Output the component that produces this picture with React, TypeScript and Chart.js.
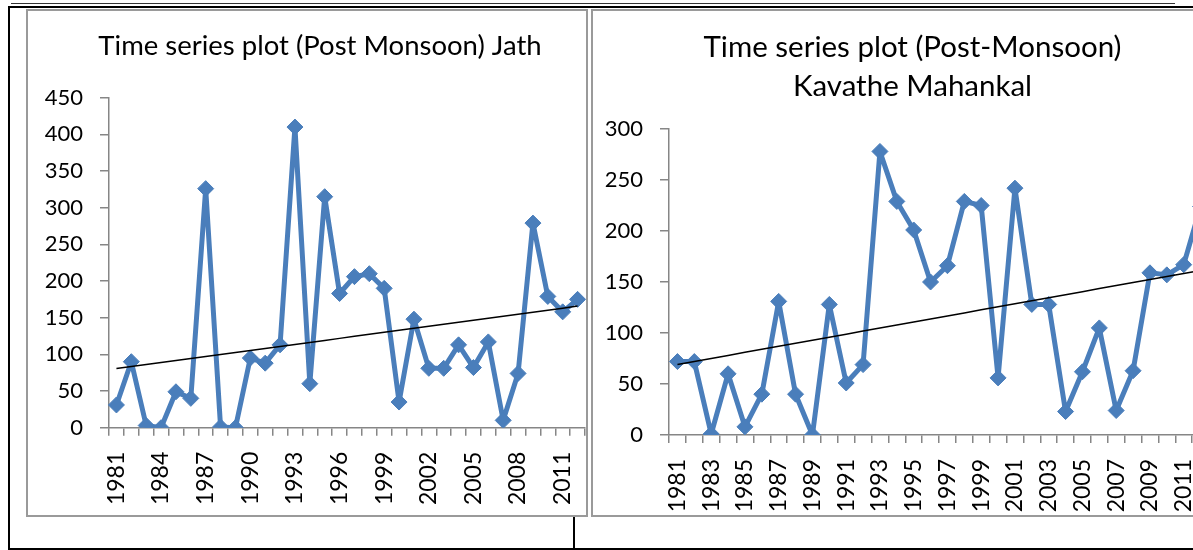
import React, { useEffect, useRef } from 'react';
import { Chart, registerables } from 'chart.js';

Chart.register(...registerables);

const years = [
  '1981', '1982', '1983', '1984', '1985', '1986', '1987', '1988', '1989', '1990', '1991',
  '1992', '1993', '1994', '1995', '1996', '1997', '1998', '1999', '2000', '2001', '2002',
  '2003', '2004', '2005', '2006', '2007', '2008', '2009', '2010', '2011', '2012',
];

const jathValues = [
  31, 90, 3, 0, 49, 40, 326, 1, 0, 95, 88, 113, 410, 60, 315, 183, 206, 210, 190, 35, 148,
  81, 81, 113, 82, 117, 10, 74, 279, 179, 158, 175,
];

const kavatheValues = [
  72, 72, 1, 60, 8, 40, 131, 40, 0, 128, 51, 69, 278, 229, 201, 150, 166, 229, 225, 56, 242,
  128, 128, 23, 62, 105, 24, 63, 159, 157, 167, 224,
];

const jathTitle = 'Time series plot (Post Monsoon) Jath';
const kavatheTitle = ['Time series plot (Post-Monsoon)', 'Kavathe Mahankal'];

const jathYMax = 450;
const kavatheYMax = 300;
const yStep = 50;
const jathLabelEvery = 3;
const kavatheLabelEvery = 2;

const SERIES_COLOR = '#4a7ebb';
const AXIS_COLOR = '#868686';
const FONT = 'Lato';

function linearTrend(values: number[]): number[] {
  const n = values.length;
  let sx = 0, sy = 0, sxy = 0, sxx = 0;
  values.forEach((v, i) => {
    sx += i; sy += v; sxy += i * v; sxx += i * i;
  });
  const slope = (n * sxy - sx * sy) / (n * sxx - sx * sx);
  const intercept = (sy - slope * sx) / n;
  return values.map((_, i) => intercept + slope * i);
}

type ChartProps = {
  values: number[];
  title: string | string[];
  yMax: number;
  labelEvery: number;
  left: number;
  top: number;
  width: number;
  height: number;
  rightSpace: number;
  yWidth: number;
  xHeight: number;
  titleSize: number;
  titleLineHeight: string;
  titlePadTop: number;
  titlePadBottom: number;
  xLabelPad: number;
};

function TimeChart(p: ChartProps) {
  const ref = useRef<HTMLCanvasElement>(null);
  useEffect(() => {
    if (!ref.current) return;
    const trend = linearTrend(p.values);
    const chart = new Chart(ref.current, {
      type: 'line',
      data: {
        labels: years,
        datasets: [
          {
            data: p.values,
            borderColor: SERIES_COLOR,
            backgroundColor: SERIES_COLOR,
            borderWidth: 5,
            borderJoinStyle: 'round',
            pointStyle: 'rectRot',
            pointRadius: 8,
            pointBorderWidth: 1,
            pointBackgroundColor: SERIES_COLOR,
            pointBorderColor: SERIES_COLOR,
            tension: 0,
            order: 1,
            yAxisID: 'y',
          },
          {
            data: trend,
            borderColor: '#000000',
            borderWidth: 1.5,
            pointRadius: 0,
            tension: 0,
            order: 0,
            yAxisID: 'y',
          },
        ],
      },
      options: {
        animation: false,
        responsive: false,
        maintainAspectRatio: false,
        layout: { padding: 0 },
        plugins: {
          legend: { display: false },
          tooltip: { enabled: false },
          title: {
            display: true,
            text: p.title,
            color: '#000000',
            font: { family: FONT, size: p.titleSize, weight: 'normal', lineHeight: p.titleLineHeight },
            padding: { top: p.titlePadTop, bottom: p.titlePadBottom },
          },
        },
        scales: {
          x: {
            type: 'category',
            offset: true,
            grid: {
              offset: true,
              drawOnChartArea: false,
              drawTicks: true,
              tickLength: 8,
              color: AXIS_COLOR,
              lineWidth: 1.5,
            },
            border: { display: true, color: AXIS_COLOR, width: 1.5 },
            ticks: {
              autoSkip: false,
              maxRotation: 90,
              minRotation: 90,
              padding: p.xLabelPad,
              color: '#000000',
              font: { family: FONT, size: 23 },
              callback: (_v: any, i: number) => (i % p.labelEvery === 0 ? years[i] : ''),
            },
            afterFit: (s: any) => {
              s.height = p.xHeight;
              s.paddingLeft = 0;
              s.paddingRight = 0;
            },
          },
          y: {
            position: 'left',
            min: 0,
            max: p.yMax,
            ticks: { stepSize: yStep, padding: 17, color: '#000000', font: { family: FONT, size: 22 } },
            grid: {
              drawOnChartArea: false,
              drawTicks: true,
              tickLength: 9,
              color: AXIS_COLOR,
              lineWidth: 1.5,
            },
            border: { display: true, color: AXIS_COLOR, width: 1.5 },
            afterFit: (s: any) => {
              s.width = p.yWidth;
              s.paddingTop = 0;
              s.paddingBottom = 0;
            },
          },
          // empty spacer on the right so the title centres like the original frame
          spacer: {
            type: 'linear',
            position: 'right',
            display: true,
            grid: { display: false, drawTicks: false },
            border: { display: false },
            ticks: { display: false },
            afterFit: (s: any) => {
              s.width = p.rightSpace;
              s.paddingTop = 0;
              s.paddingBottom = 0;
            },
          },
        },
      },
    } as any);
    return () => chart.destroy();
  }, []);
  return (
    <canvas
      ref={ref}
      width={p.width}
      height={p.height}
      style={{ position: 'absolute', left: p.left, top: p.top, width: p.width, height: p.height }}
    />
  );
}

const line = (left: number, top: number, width: number, height: number, color = '#000') => (
  <div style={{ position: 'absolute', left, top, width, height, background: color }} />
);

export default function App() {
  return (
    <div
      style={{
        position: 'fixed',
        left: 0,
        top: 0,
        width: 1193,
        height: 550,
        overflow: 'hidden',
        background: '#ffffff',
      }}
    >
      {line(11, 3, 1164, 1, '#333')}
      {line(8, 6, 1185, 2)}
      {line(8, 6, 2, 544)}
      {line(8, 548, 1185, 2)}
      {line(573, 517, 2, 32)}
      <div
        style={{
          position: 'absolute', left: 26, top: 9, width: 562, height: 508,
          border: '2px solid #9a9a9a', boxSizing: 'border-box',
        }}
      />
      <div
        style={{
          position: 'absolute', left: 591, top: 9, width: 700, height: 508,
          border: '2px solid #9a9a9a', boxSizing: 'border-box',
        }}
      />
      <TimeChart
        values={jathValues}
        title={jathTitle}
        yMax={jathYMax}
        labelEvery={jathLabelEvery}
        left={10}
        top={11}
        width={620}
        height={504}
        rightSpace={45}
        yWidth={99}
        xHeight={87.3}
        titleSize={27.5}
        titleLineHeight="33px"
        titlePadTop={18.5}
        titlePadBottom={35.2}
        xLabelPad={16}
      />
      <TimeChart
        values={kavatheValues}
        title={kavatheTitle}
        yMax={kavatheYMax}
        labelEvery={kavatheLabelEvery}
        left={593}
        top={11}
        width={639}
        height={504}
        rightSpace={23}
        yWidth={76}
        xHeight={80}
        titleSize={29.5}
        titleLineHeight="39px"
        titlePadTop={17}
        titlePadBottom={23}
        xLabelPad={16}
      />
    </div>
  );
}
